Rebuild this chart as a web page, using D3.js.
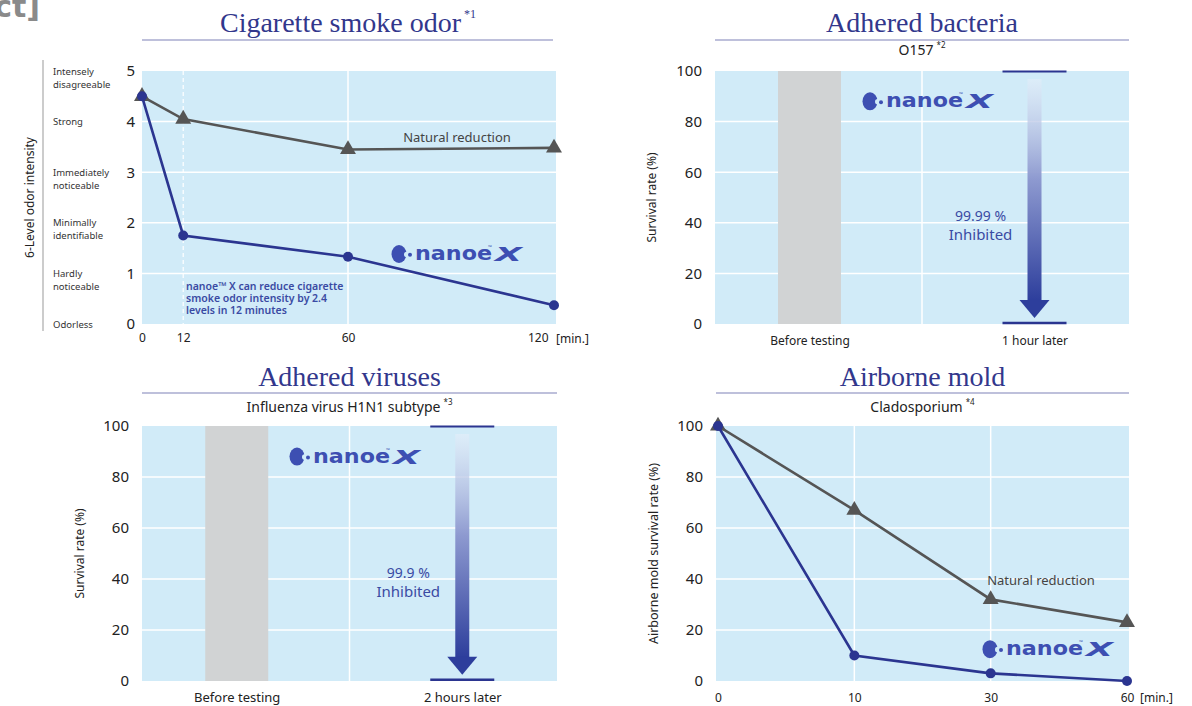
<!DOCTYPE html>
<html>
<head>
<meta charset="utf-8">
<script src="https://cdn.jsdelivr.net/npm/d3@7"></script>
<style>
  html, body { margin: 0; padding: 0; background: #ffffff; }
  svg { display: block; }
</style>
</head>
<body>
<script>
// ---------------- DATA ----------------
const odorTimes = [0, 12, 60, 120];
const odorNanoe = [4.5, 1.75, 1.33, 0.37];
const odorNatural = [4.5, 4.05, 3.45, 3.48];
const odorTicks = [0, 1, 2, 3, 4, 5];
const odorLevels = [
  ["Odorless"],
  ["Hardly", "noticeable"],
  ["Minimally", "identifiable"],
  ["Immediately", "noticeable"],
  ["Strong"],
  ["Intensely", "disagreeable"]
];
const odorNote = ["nanoe\u2122 X can reduce cigarette", "smoke odor intensity by 2.4", "levels in 12 minutes"];

const bacteriaCategories = ["Before testing", "1 hour later"];
const bacteriaValues = [100, 0.01];
const bacteriaInhibited = "99.99 %";

const virusCategories = ["Before testing", "2 hours later"];
const virusValues = [100, 0.1];
const virusInhibited = "99.9 %";

const percentTicks = [0, 20, 40, 60, 80, 100];

const moldTimes = ["0", "10", "30", "60"];
const moldNanoe = [100, 10, 3, 0];
const moldNatural = [100, 67, 32, 23];

// ---------------- STYLE ----------------
const W = 1192, H = 706;
const BG = "#d1ebf8";
const NAVY = "#2b3590";
const GRAYLINE = "#555555";
const TITLE = "#32378c";
const TXTBLUE = "#3a4aa3";
const LOGO = "#3d4fb2";
const BAR = "#d1d3d4";
const SANS = "'Noto Sans', 'Open Sans', sans-serif";
const SERIF = "'Liberation Serif', 'DejaVu Serif', serif";

const svg = d3.select("body").append("svg").attr("width", W).attr("height", H);
const defs = svg.append("defs");
const grad = defs.append("linearGradient").attr("id", "arrowGrad")
  .attr("x1", 0).attr("y1", 0).attr("x2", 0).attr("y2", 1);
grad.append("stop").attr("offset", "0%").attr("stop-color", "#e4eef9").attr("stop-opacity", 0.6);
grad.append("stop").attr("offset", "45%").attr("stop-color", "#8e9ad0");
grad.append("stop").attr("offset", "100%").attr("stop-color", "#2d3e9c");

// corner fragment (cut off at the page edge, as in the reference)
svg.append("text").attr("x", 40).attr("y", 17).attr("text-anchor", "end")
  .attr("font-family", "'DejaVu Sans', sans-serif").attr("font-weight", "bold")
  .attr("font-size", 30).attr("fill", "#8a8a8a").text("[Effect]");

function title(cx, y, lineL, lineR, lineY, main, sup) {
  const t = svg.append("text").attr("x", cx).attr("y", y).attr("text-anchor", "middle")
    .attr("font-family", SERIF).attr("font-size", 28).attr("fill", TITLE);
  t.append("tspan").text(main);
  if (sup) t.append("tspan").attr("font-size", 12).attr("dy", -14).attr("dx", 3).text(sup);
  svg.append("line").attr("x1", lineL).attr("x2", lineR).attr("y1", lineY).attr("y2", lineY)
    .attr("stroke", "#7e82b8").attr("stroke-width", 1.2);
}

function subtitle(cx, y, main, sup) {
  const t = svg.append("text").attr("x", cx).attr("y", y).attr("text-anchor", "middle")
    .attr("font-family", SANS).attr("font-size", 14).attr("fill", "#222");
  t.append("tspan").text(main);
  if (sup) t.append("tspan").attr("font-size", 8).attr("dy", -7).attr("dx", 3).text(sup);
}

function logo(x, y) {
  const g = svg.append("g").attr("transform", `translate(${x},${y})`);
  g.append("ellipse").attr("cx", 7).attr("cy", 0).attr("rx", 7.5).attr("ry", 9).attr("fill", LOGO);
  g.append("circle").attr("cx", 14.8).attr("cy", 0.5).attr("r", 2.8).attr("fill", BG);
  g.append("circle").attr("cx", 18).attr("cy", 0.8).attr("r", 2).attr("fill", LOGO);
  g.append("text").attr("x", 23).attr("y", 6).attr("font-family", "'DejaVu Sans', sans-serif")
    .attr("font-weight", "bold").attr("font-size", 19).attr("textLength", 77)
    .attr("lengthAdjust", "spacingAndGlyphs").attr("fill", LOGO).text("nanoe");
  g.append("text").attr("x", 103).attr("y", 7).attr("font-family", "'DejaVu Sans', sans-serif")
    .attr("font-weight", "bold").attr("font-style", "italic").attr("font-size", 20)
    .attr("textLength", 27).attr("lengthAdjust", "spacingAndGlyphs").attr("fill", LOGO).text("X");
  g.append("text").attr("x", 96).attr("y", -5).attr("font-family", SANS)
    .attr("font-size", 5).attr("fill", LOGO).text("\u2122");
}

function styleAxis(sel, size, color) {
  sel.select(".domain").remove();
  sel.selectAll(".tick line").remove();
  sel.selectAll(".tick text").attr("font-family", SANS).attr("font-size", size).attr("fill", color || "#222");
}

// ================= PANEL 1: Cigarette smoke odor =================
(function () {
  const L = 142, R = 556, T = 71, B = 324;
  const x = d3.scaleLinear().domain([0, 120]).range([142, 554]);
  const y = d3.scaleLinear().domain([0, 5]).range([B, T]);
  title(348, 32, 142, 553, 40, "Cigarette smoke odor", "*1");

  svg.append("rect").attr("x", L).attr("y", T).attr("width", R - L).attr("height", B - T).attr("fill", BG);
  svg.append("g").selectAll("line").data(odorTicks.slice(1, 5)).join("line")
    .attr("x1", L).attr("x2", R).attr("y1", d => y(d)).attr("y2", d => y(d))
    .attr("stroke", "#fff").attr("stroke-width", 1.5);
  svg.append("line").attr("x1", x(60)).attr("x2", x(60)).attr("y1", T).attr("y2", B)
    .attr("stroke", "#fff").attr("stroke-width", 1.5);
  svg.append("line").attr("x1", x(12)).attr("x2", x(12)).attr("y1", T).attr("y2", B)
    .attr("stroke", "#fff").attr("stroke-width", 1.2).attr("stroke-dasharray", "4,3");

  // axes
  const ya = svg.append("g").attr("transform", `translate(${L},0)`)
    .call(d3.axisLeft(y).tickValues(odorTicks).tickSize(0).tickPadding(7).tickFormat(d3.format("d")));
  styleAxis(ya, 15);
  const xa = svg.append("g").attr("transform", `translate(0,${B})`)
    .call(d3.axisBottom(x).tickValues(odorTimes).tickSize(0).tickPadding(9).tickFormat(d3.format("d")));
  styleAxis(xa, 12);
  xa.selectAll(".tick").filter(d => d === 120).select("text").attr("text-anchor", "end").attr("x", -6);
  svg.append("text").attr("x", x(120) + 2).attr("y", 343).attr("font-family", SANS)
    .attr("font-size", 12).attr("fill", "#222").text("[min.]");

  // level labels
  svg.append("line").attr("x1", 43).attr("x2", 43).attr("y1", 60).attr("y2", 331)
    .attr("stroke", "#aaa").attr("stroke-width", 1.2);
  const lv = svg.append("g").selectAll("text").data(odorTicks).join("text")
    .attr("x", 53).attr("y", d => y(d) + 3.5).attr("font-family", SANS).attr("font-size", 9.5).attr("fill", "#333");
  lv.each(function (d) {
    const t = d3.select(this);
    odorLevels[d].forEach((s, i) => t.append("tspan").attr("x", 53).attr("dy", i === 0 ? 0 : 13).text(s));
  });
  svg.append("text").attr("transform", `translate(34,${(T + B) / 2}) rotate(-90)`)
    .attr("text-anchor", "middle").attr("font-family", SANS).attr("font-size", 12).attr("fill", "#222")
    .text("6-Level odor intensity");

  // lines
  const line = d3.line().x((d, i) => x(odorTimes[i])).y(d => y(d));
  svg.append("path").datum(odorNatural).attr("d", line).attr("fill", "none")
    .attr("stroke", GRAYLINE).attr("stroke-width", 2.6);
  svg.append("g").selectAll("path").data(odorNatural).join("path")
    .attr("transform", (d, i) => `translate(${x(odorTimes[i])},${y(d)})`)
    .attr("d", d3.symbol(d3.symbolTriangle).size(110)).attr("fill", GRAYLINE);
  svg.append("path").datum(odorNanoe).attr("d", line).attr("fill", "none")
    .attr("stroke", NAVY).attr("stroke-width", 2.6);
  svg.append("g").selectAll("circle").data(odorNanoe).join("circle")
    .attr("cx", (d, i) => x(odorTimes[i])).attr("cy", d => y(d)).attr("r", 5).attr("fill", NAVY);

  svg.append("text").attr("x", 457).attr("y", y(3.6)).attr("text-anchor", "middle")
    .attr("font-family", SANS).attr("font-size", 13).attr("fill", "#444").text("Natural reduction");
  logo(392, 254);
  const note = svg.append("text").attr("x", 186).attr("y", 290).attr("font-family", SANS)
    .attr("font-size", 10.5).attr("font-weight", 600).attr("fill", TXTBLUE);
  odorNote.forEach((s, i) => note.append("tspan").attr("x", 186).attr("dy", i === 0 ? 0 : 12).text(s));
})();

// ================= BAR PANELS =================
function barPanel(cfg) {
  const { L, R, T, B, cats, vals, inhibited, titleText, sub, subSup, subY, titleY, lineY, yTitleX, yLabelSize, xLabelY, xLabelSize } = cfg;
  const x = d3.scalePoint().domain(cats).range([L, R]).padding(0.42);
  const y = d3.scaleLinear().domain([0, 100]).range([B, T]);
  const cx = (L + R) / 2;
  title(cx, titleY, L, R, lineY, titleText, null);
  subtitle(cx, subY, sub, subSup);

  svg.append("rect").attr("x", L).attr("y", T).attr("width", R - L).attr("height", B - T).attr("fill", BG);
  svg.append("g").selectAll("line").data(percentTicks.slice(1, 5)).join("line")
    .attr("x1", L).attr("x2", R).attr("y1", d => y(d)).attr("y2", d => y(d))
    .attr("stroke", "#fff").attr("stroke-width", 1.5);
  const mid = (x(cats[0]) + x(cats[1])) / 2;
  svg.append("line").attr("x1", mid).attr("x2", mid).attr("y1", T).attr("y2", B)
    .attr("stroke", "#fff").attr("stroke-width", 1.5);

  svg.append("g").selectAll("rect").data(vals).join("rect")
    .attr("x", (d, i) => x(cats[i]) - 31.5).attr("width", 63)
    .attr("y", d => y(d)).attr("height", d => B - y(d)).attr("fill", BAR);

  // arrow
  const ax = x(cats[1]);
  const yTop = y(vals[0]), yBot = y(vals[1]);
  svg.append("line").attr("x1", ax - 32).attr("x2", ax + 32).attr("y1", yTop + 0.5).attr("y2", yTop + 0.5)
    .attr("stroke", NAVY).attr("stroke-width", 2);
  svg.append("line").attr("x1", ax - 32).attr("x2", ax + 32).attr("y1", yBot - 1).attr("y2", yBot - 1)
    .attr("stroke", NAVY).attr("stroke-width", 2.5);
  svg.append("rect").attr("x", ax - 7).attr("width", 14).attr("y", yTop + 8)
    .attr("height", (yBot - 24) - (yTop + 8) + 1).attr("fill", "url(#arrowGrad)");
  svg.append("path").attr("d", `M${ax - 15},${yBot - 24}L${ax + 15},${yBot - 24}L${ax},${yBot - 6}Z`)
    .attr("fill", "#2d3e9c");

  svg.append("text").attr("x", ax - 54).attr("y", y(39) - 4).attr("text-anchor", "middle")
    .attr("font-family", SANS).attr("font-size", 14).attr("fill", TXTBLUE).text(inhibited);
  svg.append("text").attr("x", ax - 54).attr("y", y(39) + 15).attr("text-anchor", "middle")
    .attr("font-family", SANS).attr("font-size", 15).attr("fill", TXTBLUE).text("Inhibited");

  logo(L + 148, y(88));

  const ya = svg.append("g").attr("transform", `translate(${L},0)`)
    .call(d3.axisLeft(y).tickValues(percentTicks).tickSize(0).tickPadding(13));
  styleAxis(ya, 15);
  const xa = svg.append("g").attr("transform", `translate(0,${B})`)
    .call(d3.axisBottom(x).tickSize(0).tickPadding(xLabelY));
  styleAxis(xa, xLabelSize);
  svg.append("text").attr("transform", `translate(${yTitleX},${(T + B) / 2}) rotate(-90)`)
    .attr("text-anchor", "middle").attr("font-family", SANS).attr("font-size", yLabelSize).attr("fill", "#222")
    .text("Survival rate (%)");
}

barPanel({
  L: 715, R: 1129, T: 71, B: 324, cats: bacteriaCategories, vals: bacteriaValues,
  inhibited: bacteriaInhibited, titleText: "Adhered bacteria", sub: "O157", subSup: "*2",
  subY: 55, titleY: 32, lineY: 40, yTitleX: 656, yLabelSize: 12, xLabelY: 12, xLabelSize: 12
});
barPanel({
  L: 142, R: 557, T: 426, B: 681, cats: virusCategories, vals: virusValues,
  inhibited: virusInhibited, titleText: "Adhered viruses", sub: "Influenza virus H1N1 subtype", subSup: "*3",
  subY: 412, titleY: 386, lineY: 393, yTitleX: 84, yLabelSize: 12, xLabelY: 12, xLabelSize: 13
});

// ================= PANEL 4: Airborne mold =================
(function () {
  const L = 716, R = 1129, T = 426, B = 681;
  const x = d3.scalePoint().domain(moldTimes).range([718, 1127]);
  const y = d3.scaleLinear().domain([0, 100]).range([B, T]);
  title((L + R) / 2, 386, L, R, 393, "Airborne mold", null);
  subtitle((L + R) / 2, 412, "Cladosporium", "*4");

  svg.append("rect").attr("x", L).attr("y", T).attr("width", R - L).attr("height", B - T).attr("fill", BG);
  svg.append("g").selectAll("line").data(percentTicks.slice(1, 5)).join("line")
    .attr("x1", L).attr("x2", R).attr("y1", d => y(d)).attr("y2", d => y(d))
    .attr("stroke", "#fff").attr("stroke-width", 1.5);
  svg.append("g").selectAll("line").data(moldTimes.slice(1, 3)).join("line")
    .attr("x1", d => x(d)).attr("x2", d => x(d)).attr("y1", T).attr("y2", B)
    .attr("stroke", "#fff").attr("stroke-width", 1.5);

  const ya = svg.append("g").attr("transform", `translate(${L},0)`)
    .call(d3.axisLeft(y).tickValues(percentTicks).tickSize(0).tickPadding(13));
  styleAxis(ya, 15);
  const xa = svg.append("g").attr("transform", `translate(0,${B})`)
    .call(d3.axisBottom(x).tickSize(0).tickPadding(12));
  styleAxis(xa, 12);
  svg.append("text").attr("x", x("60") + 13).attr("y", B + 21).attr("font-family", SANS)
    .attr("font-size", 12).attr("fill", "#222").text("[min.]");
  svg.append("text").attr("transform", `translate(658,${(T + B) / 2}) rotate(-90)`)
    .attr("text-anchor", "middle").attr("font-family", SANS).attr("font-size", 12.5).attr("fill", "#222")
    .text("Airborne mold survival rate (%)");

  const line = d3.line().x((d, i) => x(moldTimes[i])).y(d => y(d));
  svg.append("path").datum(moldNatural).attr("d", line).attr("fill", "none")
    .attr("stroke", GRAYLINE).attr("stroke-width", 2.6);
  svg.append("g").selectAll("path").data(moldNatural).join("path")
    .attr("transform", (d, i) => `translate(${x(moldTimes[i])},${y(d)})`)
    .attr("d", d3.symbol(d3.symbolTriangle).size(110)).attr("fill", GRAYLINE);
  svg.append("path").datum(moldNanoe).attr("d", line).attr("fill", "none")
    .attr("stroke", NAVY).attr("stroke-width", 2.6);
  svg.append("g").selectAll("circle").data(moldNanoe).join("circle")
    .attr("cx", (d, i) => x(moldTimes[i])).attr("cy", d => y(d)).attr("r", 5).attr("fill", NAVY);

  svg.append("text").attr("x", 1041).attr("y", y(39.5) + 5).attr("text-anchor", "middle")
    .attr("font-family", SANS).attr("font-size", 13).attr("fill", "#444").text("Natural reduction");
  logo(983, y(12.5));
})();
</script>
</body>
</html>
